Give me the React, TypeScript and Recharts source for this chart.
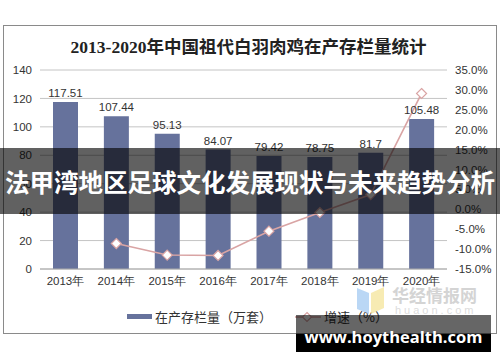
import {
  ComposedChart,
  Bar,
  Line,
  XAxis,
  YAxis,
  CartesianGrid,
  LabelList,
} from "recharts";

const years = ["2013年", "2014年", "2015年", "2016年", "2017年", "2018年", "2019年", "2020年"];
const stock = [117.51, 107.44, 95.13, 84.07, 79.42, 78.75, 81.7, 105.48];
const growth = [null, -8.6, -11.5, -11.6, -5.5, -0.8, 3.7, 29.1];
const leftTicks = [0, 20, 40, 60, 80, 100, 120, 140];
const rightTicks = [-15, -10, -5, 0, 5, 10, 15, 20, 25, 30, 35];

const data = years.map((year, i) => ({ year, stock: stock[i], growth: growth[i] }));

const barColor = "#66729c";
const lineColor = "#d9a4a4";
const tickStyle = { fill: "#333", fontSize: 11.5, fontFamily: "Liberation Sans, Arial, sans-serif" };

const Diamond = (props: any) => {
  const { cx, cy, value } = props;
  if (value == null || cx == null || cy == null) return null;
  const s = 5;
  return (
    <path
      d={`M${cx},${cy - s}L${cx + s},${cy}L${cx},${cy + s}L${cx - s},${cy}Z`}
      fill="#fff"
      stroke={lineColor}
      strokeWidth={1.2}
    />
  );
};

export default function App() {
  return (
    <div
      style={{
        position: "fixed",
        left: 0,
        top: 0,
        width: 500,
        height: 362,
        background: "#fff",
        overflow: "hidden",
        fontFamily: "Liberation Sans, Arial, 'Noto Sans CJK SC', sans-serif",
      }}
    >
      <div
        style={{
          position: "absolute",
          left: 3,
          top: 25,
          width: 492,
          height: 307,
          border: "1px solid #8a8a8a",
        }}
      />
      <div
        style={{
          position: "absolute",
          left: 0,
          top: 33,
          width: 497,
          textAlign: "center",
          fontFamily: "'Liberation Serif', 'Noto Sans CJK SC', serif",
          fontWeight: "bold",
          fontSize: 17.5,
          color: "#222",
        }}
      >
        2013-2020年中国祖代白羽肉鸡在产存栏量统计
      </div>
      <div style={{ position: "absolute", left: 0, top: 0 }}>
        <ComposedChart
          width={500}
          height={362}
          data={data}
          margin={{ top: 70, right: 8, bottom: 73, left: 10 }}
        >
          <CartesianGrid yAxisId="left" vertical={false} stroke="#c4c4c4" />
          <XAxis
            dataKey="year"
            tick={tickStyle}
            tickLine={false}
            axisLine={{ stroke: "#aaa" }}
            height={20}
            interval={0}
          />
          <YAxis
            yAxisId="left"
            domain={[0, 140]}
            ticks={leftTicks}
            tick={tickStyle}
            axisLine={false}
            tickLine={false}
            width={30}
          />
          <YAxis
            yAxisId="right"
            orientation="right"
            domain={[-15, 35]}
            ticks={rightTicks}
            tick={{ ...tickStyle, textAnchor: "start" }}
            tickFormatter={(v: number) => `${v.toFixed(1)}%`}
            axisLine={false}
            tickLine={false}
            width={45}
            tickMargin={2}
          />
          <Bar yAxisId="left" dataKey="stock" fill={barColor} barSize={25} isAnimationActive={false}>
            <LabelList dataKey="stock" position="top" offset={5} fill="#333" fontSize={11.5} />
          </Bar>
          <Line
            yAxisId="right"
            dataKey="growth"
            stroke={lineColor}
            strokeWidth={1.6}
            dot={<Diamond />}
            activeDot={false}
            isAnimationActive={false}
          />
        </ComposedChart>
      </div>
      {/* legend */}
      <div
        style={{
          position: "absolute",
          top: 307,
          left: 127,
          display: "flex",
          alignItems: "center",
          fontSize: 13,
          color: "#333",
          fontFamily: "'Noto Sans CJK SC', sans-serif",
        }}
      >
        <div style={{ width: 25, height: 5, background: barColor, marginRight: 3 }} />
        <span style={{ width: 140 }}>在产存栏量（万套）</span>
        <svg width={26} height={12} style={{ marginRight: 3 }}>
          <line x1={0} y1={6} x2={26} y2={6} stroke={lineColor} strokeWidth={1.6} />
          <path d="M12,1.5L16.5,6L12,10.5L7.5,6Z" fill="#fff" stroke={lineColor} strokeWidth={1.2} />
        </svg>
        <span>增速（%）</span>
      </div>
      {/* watermark */}
      <svg style={{ position: "absolute", left: 356, top: 284 }} width={30} height={32}>
        <path d="M1,4L13,9L13,30L1,25Z" fill="#a9cdf2" opacity={0.8} />
        <path d="M15,9L28,3L28,24L15,30Z" fill="#f5e6a0" opacity={0.8} />
      </svg>
      <div
        style={{
          position: "absolute",
          left: 392,
          top: 282,
          fontSize: 17,
          fontWeight: "bold",
          color: "#d4d4d4",
          fontFamily: "'Noto Sans CJK SC', sans-serif",
        }}
      >
        华经情报网
      </div>
      <div
        style={{
          position: "absolute",
          left: 395,
          top: 304,
          fontSize: 11,
          letterSpacing: 3,
          color: "#dcdcdc",
        }}
      >
        huaon.com
      </div>
      {/* banner */}
      <div
        style={{
          position: "absolute",
          left: 0,
          top: 148,
          width: 500,
          height: 66,
          background: "rgba(0,0,0,0.62)",
          display: "flex",
          alignItems: "center",
          justifyContent: "center",
          color: "#fff",
          fontFamily: "'Noto Sans CJK SC', sans-serif",
          fontWeight: "bold",
          fontSize: 24.5,
          whiteSpace: "nowrap",
        }}
      >
        法甲湾地区足球文化发展现状与未来趋势分析
      </div>
      <div
        style={{
          position: "absolute",
          left: 296,
          top: 315,
          width: 195,
          height: 37,
          background:
            "linear-gradient(to bottom, rgba(0,0,0,0.6) 0px, rgba(0,0,0,0.6) 19px, #000 19px, #000 37px)",
          color: "#fff",
          fontWeight: "bold",
          fontSize: 16.5,
          fontFamily: "'Open Sans', 'DejaVu Sans', sans-serif",
          display: "flex",
          alignItems: "center",
          justifyContent: "center",
          paddingTop: 6,
          boxSizing: "border-box",
          whiteSpace: "nowrap",
        }}
      >
        www.hoythealth.com
      </div>
    </div>
  );
}
